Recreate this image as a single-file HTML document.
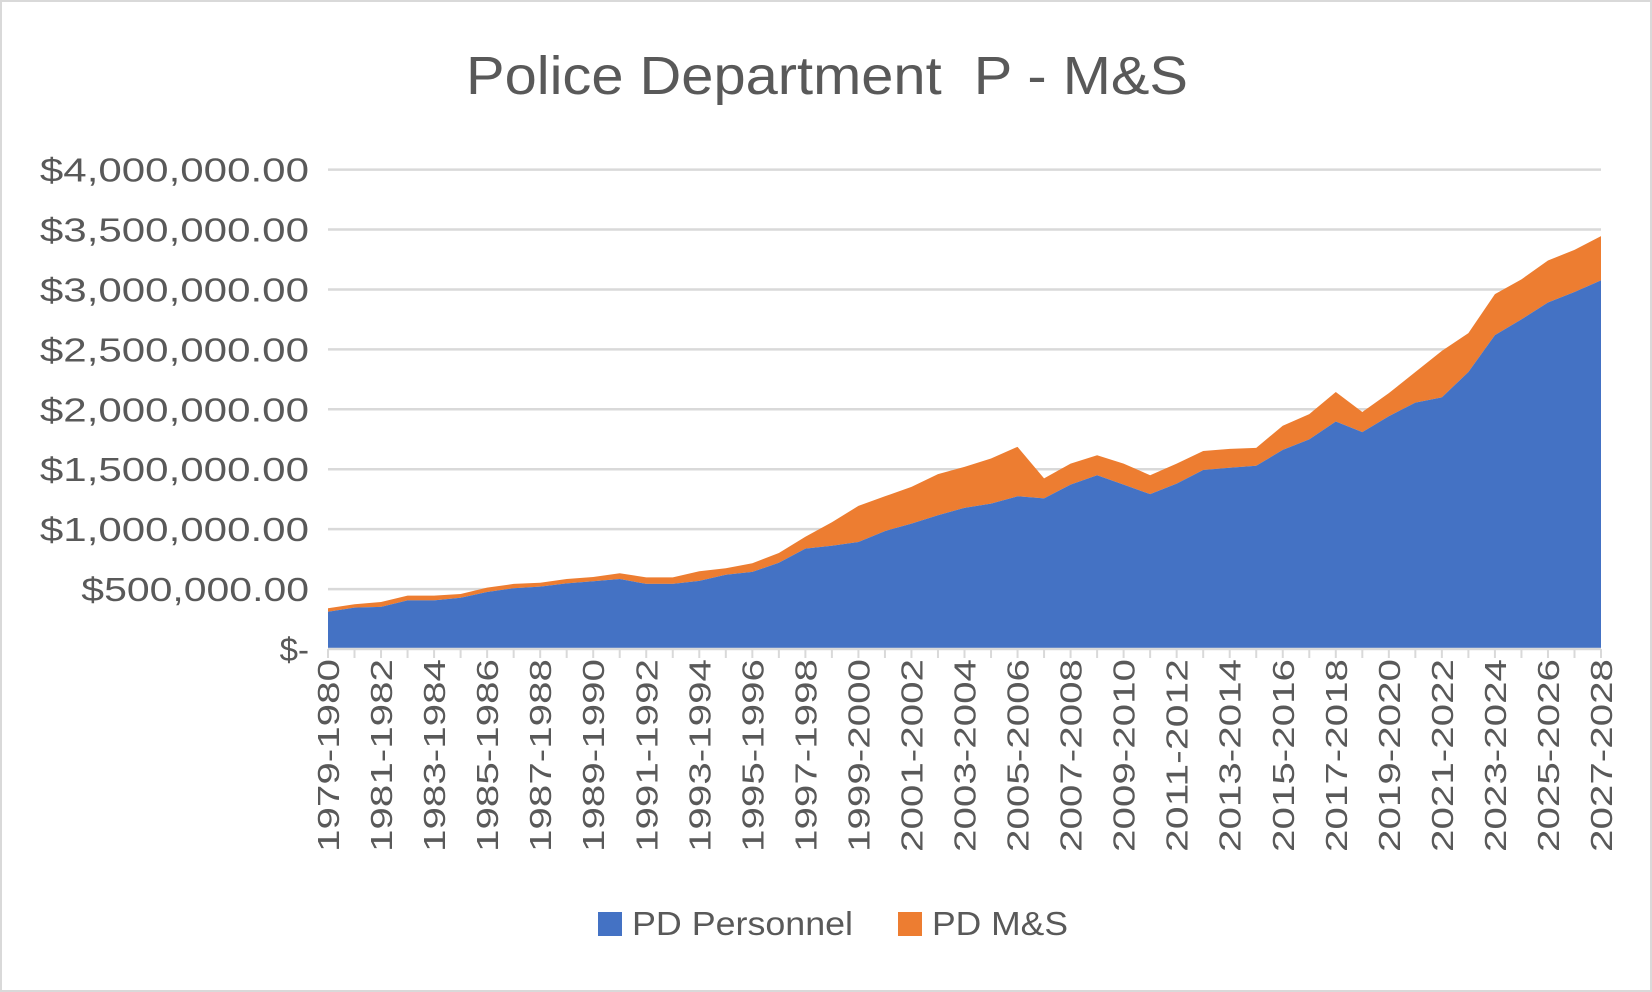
<!DOCTYPE html>
<html><head><meta charset="utf-8"><style>
html,body{margin:0;padding:0;background:#fff;}
svg{display:block;font-family:"Liberation Sans",sans-serif;}
</style></head><body>
<svg id="chart" width="1652" height="992" viewBox="0 0 1652 992">
<rect x="1" y="1" width="1650" height="990" fill="#fff" stroke="#d9d9d9" stroke-width="2"/>
<text x="466" y="94" textLength="722" lengthAdjust="spacingAndGlyphs" font-size="54" fill="#595959">Police Department&#160;&#160;P - M&amp;S</text>
<g id="grid"></g><g id="areas"></g><g id="axes"></g>
<g>
<rect x="598" y="912" width="24" height="24" fill="#4472c4"/>
<text x="632" y="935" font-size="33" textLength="221" lengthAdjust="spacingAndGlyphs" fill="#595959">PD Personnel</text>
<rect x="898" y="912" width="24" height="24" fill="#ed7d31"/>
<text x="932" y="935" font-size="33" textLength="136" lengthAdjust="spacingAndGlyphs" fill="#595959">PD M&amp;S</text>
</g>
</svg>
<script>
const categories = [];
for (let y = 1979; y <= 2027; y++) categories.push(y + "-" + (y + 1));
const personnel = [311,345,351,406,406,428,476,507,520,548,565,584,543,543,568,620,643,720,837,862,893,984,1046,1116,1178,1213,1274,1257,1371,1450,1371,1292,1380,1494,1512,1529,1661,1749,1898,1810,1942,2056,2100,2311,2619,2750,2891,2979,3076];
const total = [340,373,392,445,445,459,512,543,553,584,601,632,598,598,649,674,715,801,937,1058,1194,1274,1353,1459,1520,1590,1687,1424,1547,1617,1547,1450,1547,1652,1670,1678,1863,1960,2144,1977,2135,2311,2487,2636,2961,3084,3242,3330,3445];
const yTicks = [0,500,1000,1500,2000,2500,3000,3500,4000];
const yTickLabels = ["$-","$500,000.00","$1,000,000.00","$1,500,000.00","$2,000,000.00","$2,500,000.00","$3,000,000.00","$3,500,000.00","$4,000,000.00"];

const NS = "http://www.w3.org/2000/svg";
const X0 = 328, X1 = 1601, Y0 = 649, Y1 = 169.6;
function xs(i){ return X0 + (X1 - X0) * i / (categories.length - 1); }
function ys(v){ return Y0 - (Y0 - Y1) * v / 4000; }
function mk(tag, attrs, parent){ const e = document.createElementNS(NS, tag); for (const k in attrs) e.setAttribute(k, attrs[k]); parent.appendChild(e); return e; }

const grid = document.getElementById("grid");
yTicks.forEach((v, i) => {
  if (v > 0) {
    const l = mk("line", {x1: X0, x2: X1, y1: ys(v), y2: ys(v), stroke: "#d9d9d9", "stroke-width": 2.5}, grid);
    
    
  }
  const lab = yTickLabels[i];
  const attrs = {x: 309, y: ys(v) + 12, "text-anchor": "end", "font-size": 33, fill: "#595959"};
  if (lab.length > 3) { attrs.textLength = lab.length * 20.7; attrs.lengthAdjust = "spacingAndGlyphs"; }
  const t = mk("text", attrs, grid);
  t.textContent = lab;
  
  
});

const areas = document.getElementById("areas");
let topPath = "", botPath = "", basePath = "";
total.forEach((v, i) => { topPath += (i ? "L" : "M") + xs(i) + "," + ys(v) + " "; });
for (let i = personnel.length - 1; i >= 0; i--) botPath += "L" + xs(i) + "," + ys(personnel[i]) + " ";
const ms = mk("path", {d: topPath + botPath + "Z", fill: "#ed7d31"}, areas);


personnel.forEach((v, i) => { basePath += (i ? "L" : "M") + xs(i) + "," + ys(v) + " "; });
basePath += "L" + xs(personnel.length - 1) + "," + Y0 + " L" + X0 + "," + Y0 + " Z";
const pe = mk("path", {d: basePath, fill: "#4472c4"}, areas);



const axes = document.getElementById("axes");
const ax = mk("line", {x1: X0, x2: X1, y1: Y0, y2: Y0, stroke: "#d9d9d9", "stroke-width": 2.5}, axes);


categories.forEach((c, i) => {
  const tk = mk("line", {x1: xs(i), x2: xs(i), y1: Y0, y2: Y0 + 9, stroke: "#d9d9d9", "stroke-width": 2}, axes);
  
  
  if (i % 2 === 0) {
    const x = xs(i) + 11, y = Y0 + 10;
    const t = mk("text", {x: x, y: y, "text-anchor": "end", "font-size": 31, textLength: 193, lengthAdjust: "spacingAndGlyphs", fill: "#595959", transform: "rotate(-90 " + x + " " + y + ")"}, axes);
    t.textContent = c;
    
    
  }
});
</script>
</body></html>
